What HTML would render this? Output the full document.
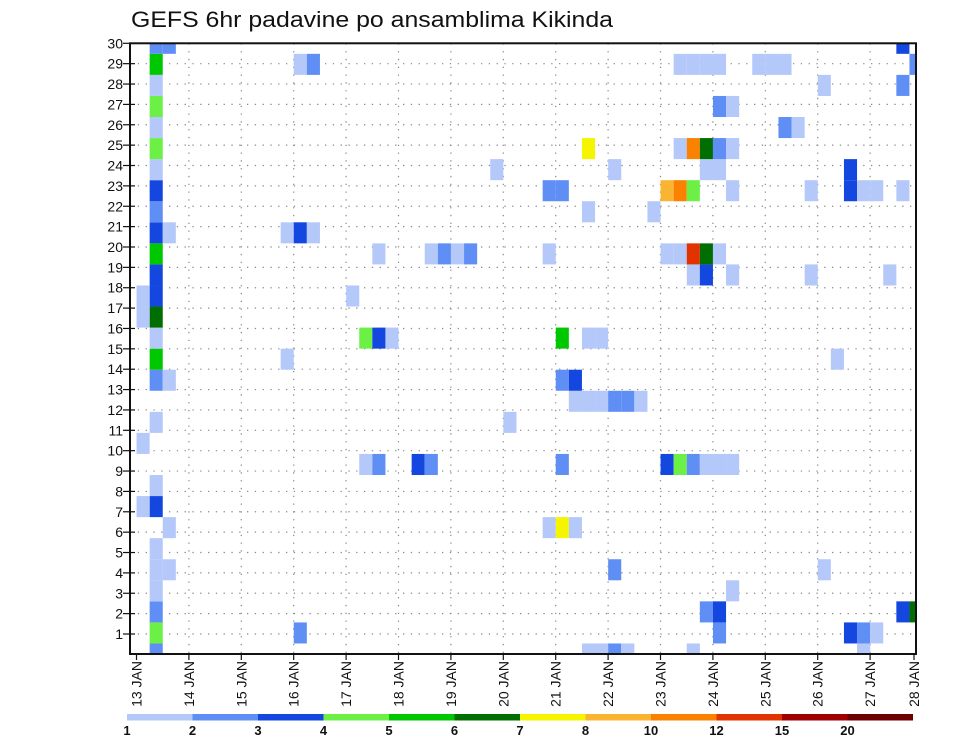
<!DOCTYPE html>
<html><head><meta charset="utf-8">
<style>
html,body{margin:0;padding:0;background:#fff;}
svg{display:block;font-family:"Liberation Sans",sans-serif;}
</style></head>
<body>
<svg id="chart" width="960" height="742" viewBox="0 0 960 742" xmlns="http://www.w3.org/2000/svg">
<text x="131" y="27" font-size="22" textLength="482" lengthAdjust="spacingAndGlyphs" fill="#111">GEFS 6hr padavine po ansamblima Kikinda</text>
<g id="grid"></g>
<g id="cells"></g>
<g id="axes"></g>
<g id="legend"></g>
</svg>
<script>
// time step index (6h steps from 13 JAN 00), member row index, precipitation value
const times   = [2,2,2,2,2,2,2,2,2,2,2,2,2,2,2,2,2,2,2,2,2,2,2,2,2,2, 1,1,1,1, 3,3,3,3,3, 12,12, 13,13,13, 14,14, 17, 18,18, 19,19,19, 20, 22, 23,23, 24, 25, 26, 28, 29, 32,32,32, 33,33,33,33,33, 34,34,34, 35,35,35,35,35, 36,36,36, 37,37,37,37, 38,38, 39, 40, 41,41,41, 42,42,42,42,42, 43,43,43,43,43,43,43, 44,44,44,44,44,44,44, 45,45,45,45,45,45,45,45, 46,46,46,46,46,46, 48, 49, 50,50, 51, 52,52, 53,53, 54, 55,55,55, 56,56,56, 57,57, 58, 59,59,59,59, 60,60];
const members = [0,1,2,3,4,5,7,8,11,13,14,15,16,17,18,19,20,21,22,23,24,25,26,27,28,29, 7,10,16,17, 4,6,13,20,29, 14,20, 1,20,28, 20,28, 17, 9,15, 9,15,19, 15, 9, 9,19, 19, 19, 19, 23, 11, 6,19,22, 6,9,13,15,22, 6,12,13, 0,12,15,21,24, 0,12,15, 0,4,12,23, 0,12, 12, 21, 9,19,22, 9,19,22,24,28, 0,9,18,19,22,24,28, 2,9,18,19,23,24,28, 1,2,9,19,23,24,26,28, 3,9,18,22,24,26, 28, 28, 25,28, 25, 18,22, 4,27, 14, 1,22,23, 0,1,22, 1,22, 18, 2,22,27,29, 2,28];
const values  = [2.5,4.5,2.5,1.5,1.5,1.5,3.5,1.5,1.5,2.5,5.5,1.5,6.5,3.5,3.5,5.5,3.5,2.5,3.5,1.5,4.5,1.5,4.5,1.5,5.5,2.5, 1.5,1.5,1.5,1.5, 1.5,1.5,1.5,1.5,2.5, 1.5,1.5, 2.5,3.5,1.5, 1.5,2.5, 1.5, 1.5,4.5, 2.5,3.5,1.5, 1.5, 3.5, 2.5,1.5, 2.5, 1.5, 2.5, 1.5, 1.5, 1.5,1.5,2.5, 7.5,2.5,2.5,5.5,2.5, 1.5,1.5,3.5, 1.5,1.5,1.5,1.5,7.5, 1.5,1.5,1.5, 2.5,2.5,2.5,1.5, 1.5,2.5, 1.5, 1.5, 3.5,1.5,9, 4.5,1.5,11,1.5,1.5, 1.5,2.5,1.5,13.5,4.5,11,1.5, 2.5,1.5,3.5,6.5,1.5,6.5,1.5, 2.5,3.5,1.5,1.5,1.5,2.5,2.5,1.5, 1.5,1.5,1.5,1.5,1.5,1.5, 1.5, 1.5, 2.5,1.5, 1.5, 1.5,1.5, 1.5,1.5, 1.5, 3.5,3.5,3.5, 1.5,2.5,1.5, 1.5,1.5, 1.5, 3.5,1.5,2.5,3.5, 6.5,2.5];
const levels  = [1,2,3,4,5,6,7,8,10,12,15,20];
const colors  = ["#b4c8fa","#5f8ff5","#1446e0","#6cf046","#00c800","#006e00","#f5f500","#fab432","#fa8200","#e13200","#a00000","#6e0000"];
const dayLabels = ["13 JAN","14 JAN","15 JAN","16 JAN","17 JAN","18 JAN","19 JAN","20 JAN","21 JAN","22 JAN","23 JAN","24 JAN","25 JAN","26 JAN","27 JAN","28 JAN"];
const memberTicks = [1,2,3,4,5,6,7,8,9,10,11,12,13,14,15,16,17,18,19,20,21,22,23,24,25,26,27,28,29,30];

const NS="http://www.w3.org/2000/svg";
const L=130,R=916,T=43.3,B=654;
const xT = i => L + (R-L)/60*i;
const yM = r => B - (B-T)/29*r;
const cw=(R-L)/60, ch=(B-T)/29;
const yTick = k => 634 - (634-43.3)/29*(k-1);
const xDay = k => k<15 ? 136.5 + 52.4*k : 914;
function colorOf(v){let c=null;for(let j=0;j<levels.length;j++){if(v>=levels[j])c=colors[j];}return c;}
function mk(tag,attrs,parent){const e=document.createElementNS(NS,tag);for(const k in attrs)e.setAttribute(k,attrs[k]);parent.appendChild(e);return e;}

const grid=document.getElementById('grid');
memberTicks.forEach(k=>{
  const l=mk('line',{x1:L,x2:R,y1:yTick(k),y2:yTick(k),stroke:'#888','stroke-width':1.2,'stroke-dasharray':'1.3 6.5'},grid);
  
  
});
dayLabels.forEach((d,k)=>{
  if(k===0||k===15)return;
  const l=mk('line',{x1:xDay(k),x2:xDay(k),y1:T,y2:B,stroke:'#888','stroke-width':1.2,'stroke-dasharray':'1.3 6.5'},grid);
  
  
});

const cells=document.getElementById('cells');
for(let n=0;n<times.length;n++){
  const c=colorOf(values[n]); if(!c)continue;
  let x0=xT(times[n])-cw/2, x1=xT(times[n])+cw/2, y0=yM(members[n])-ch/2, y1=yM(members[n])+ch/2;
  x0=Math.max(x0,L);x1=Math.min(x1,R);y0=Math.max(y0,T);y1=Math.min(y1,B);
  const r=mk('rect',{x:x0,y:y0,width:x1-x0,height:y1-y0,fill:c},cells);
  
  
}

const axes=document.getElementById('axes');
const fr=mk('rect',{x:L,y:T,width:R-L,height:B-T,fill:'none',stroke:'#111','stroke-width':2},axes);


memberTicks.forEach(k=>{
  mk('line',{x1:L-7,x2:L+5,y1:yTick(k),y2:yTick(k),stroke:'#111','stroke-width':1.2},axes);
  const t=mk('text',{x:L-7,y:yTick(k)+5,'text-anchor':'end','font-size':14,fill:'#111'},axes);
  t.textContent=k;
  
  
});
dayLabels.forEach((d,k)=>{
  const x=xDay(k);
  mk('line',{x1:x,x2:x,y1:B,y2:B+6,stroke:'#111','stroke-width':1.2},axes);
  const t=mk('text',{x:0,y:0,'text-anchor':'end','font-size':14,fill:'#111',transform:`translate(${x+5},661) rotate(-90)`},axes);
  t.textContent=d;
  
  
});

const leg=document.getElementById('legend');
const lw=786/12;
colors.forEach((c,j)=>{
  const r=mk('rect',{x:127+lw*j,y:714,width:lw,height:6.5,fill:c},leg);
  
  
  const t=mk('text',{x:127+lw*j,y:735,'text-anchor':'middle','font-size':13,'font-weight':'bold',fill:'#111'},leg);
  t.textContent=levels[j];
  
  
});
</script>
</body></html>
